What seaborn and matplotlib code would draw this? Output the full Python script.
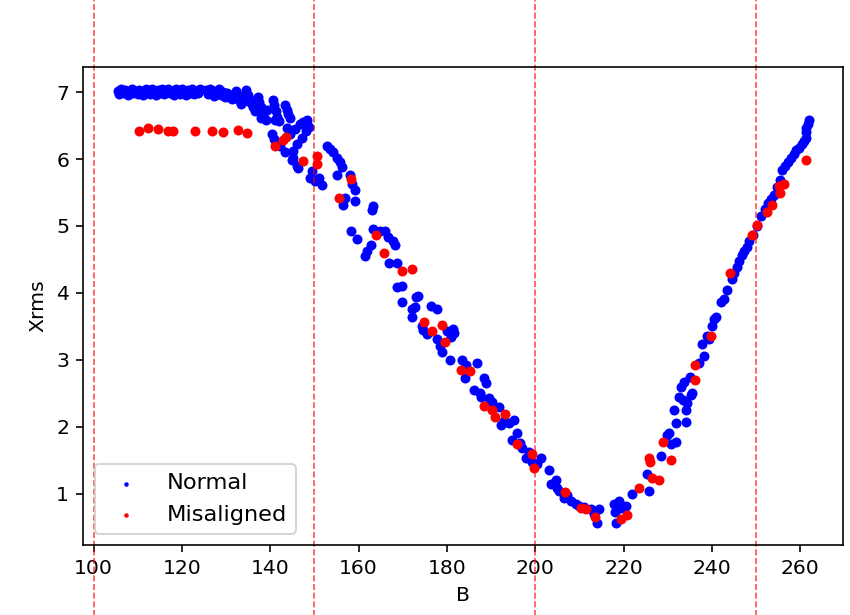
# Xrms vs B scatter, normal vs misaligned runs

import matplotlib
matplotlib.use('Agg')
import matplotlib.pyplot as plt
import pandas as pd
import seaborn as sns

# Normal runs
normal_b = [
    105.5, 105.8, 106.3, 106.8, 107.2, 107.7, 108.1, 108.6, 109.0, 109.5,
    110.0, 110.4, 110.9, 111.3, 111.8, 112.3, 112.7, 113.2, 113.6, 114.1,
    114.5, 115.0, 115.5, 116.0, 116.4, 116.9, 117.3, 117.8, 118.2, 118.7,
    119.1, 119.6, 120.0, 120.5, 121.0, 121.4, 121.9, 122.3, 122.8, 123.2,
    123.7, 124.0,
    125.5, 125.9, 126.3, 126.8, 127.2, 127.6, 128.0, 128.5, 128.9, 129.3,
    129.8, 130.2, 130.6, 131.0, 131.4,
    132.3, 132.6, 133.0, 133.3, 133.6, 134.0, 134.6, 135.0, 135.3, 135.7,
    136.2, 136.6,
    137.2, 137.5, 137.9, 138.3, 138.6, 139.0, 137.8, 139.3,
    140.6, 140.9, 141.3, 141.6, 142.0, 141.0,
    143.3, 143.7, 144.1, 144.5,
    140.4, 140.8, 142.2, 143.3, 144.9, 146.0, 143.8, 144.5, 145.6, 146.7,
    147.4, 148.3, 147.2, 146.0, 145.2, 148.0, 149.0, 149.4, 150.1, 151.0,
    151.7, 148.8, 145.1, 146.3,
    152.8, 153.5, 154.2, 155.1, 155.8, 156.2, 155.1, 158.0, 158.5, 159.1,
    159.1, 156.9, 156.5, 163.0, 163.2, 158.2, 159.6, 161.9, 162.8, 163.2,
    164.8, 165.9, 166.6, 167.7, 168.2, 161.5, 167.0, 168.8, 168.6, 169.8,
    169.8,
    172.7, 173.1, 173.4, 172.2, 172.2, 176.5, 177.7, 174.3, 174.5, 175.4,
    177.7, 180.1, 181.3, 181.7, 181.0, 179.0, 180.6, 183.5, 184.4, 186.7,
    178.5, 188.5, 188.9, 184.0, 186.2, 187.4, 187.8, 189.6, 190.1, 191.9,
    192.3, 193.0, 194.1, 195.3, 195.9, 194.8, 197.1, 198.0, 199.3, 201.4,
    198.5, 196.5, 200.5,
    203.2, 203.6, 204.7, 205.0, 205.4, 206.5, 207.2, 208.1, 209.3, 210.0,
    211.0, 212.6, 213.3, 214.4, 214.0, 217.8, 218.9, 218.3, 218.0, 219.5,
    220.5, 221.9,
    225.3, 225.7, 228.4, 230.7, 231.8, 229.8, 230.2, 231.8, 234.1, 231.4,
    234.1, 235.4, 234.3, 232.5, 233.0, 233.6, 235.0, 233.4, 235.2, 237.0,
    238.1, 237.7, 238.8, 239.3, 240.0, 240.4, 240.9, 242.0, 242.7, 243.5,
    244.5, 245.0, 245.6, 246.1, 246.7, 247.2, 247.9, 248.5, 249.4, 250.3,
    251.2, 252.0, 252.8, 253.4, 254.0, 254.8, 255.5, 255.8, 256.6, 257.3,
    258.0, 258.6, 259.1, 259.7, 260.3, 260.8, 261.2, 261.4, 261.4, 261.7,
    261.9,
]
normal_xrms = [
    7.02, 6.97, 7.04, 6.99, 7.03, 6.96, 7.01, 7.05, 6.98, 7.02,
    6.97, 7.03, 7.00, 6.96, 7.04, 7.01, 6.97, 7.05, 7.00, 6.96,
    7.03, 6.99, 7.04, 6.97, 7.01, 7.05, 6.98, 7.02, 6.96, 7.04,
    7.00, 6.97, 7.05, 7.01, 6.96, 7.03, 6.99, 7.05, 6.97, 7.02,
    6.99, 7.04,
    7.03, 6.97, 7.05, 6.99, 6.94, 7.02, 6.97, 7.04, 6.95, 7.00,
    6.92, 6.98, 6.93, 6.96, 6.90,
    7.02, 6.95, 6.88, 6.82, 6.93, 6.86, 7.03, 6.95, 6.89, 6.84,
    6.78, 6.72,
    6.93, 6.85, 6.78, 6.70, 6.62, 6.58, 6.62, 6.74,
    6.88, 6.80, 6.72, 6.63, 6.57, 6.58,
    6.80, 6.74, 6.68, 6.62,
    6.37, 6.30, 6.20, 6.10, 5.99, 5.90, 6.47, 6.38, 6.45, 6.52,
    6.55, 6.58, 6.32, 6.22, 6.12, 6.42, 5.72, 5.82, 5.67, 5.72,
    5.61, 6.48, 6.02, 5.87,
    6.20, 6.15, 6.10, 6.02, 5.95, 5.88, 5.76, 5.76, 5.62, 5.54,
    5.37, 5.42, 5.32, 5.24, 5.30, 4.92, 4.81, 4.62, 4.71, 4.96,
    4.92, 4.93, 4.84, 4.78, 4.71, 4.55, 4.44, 4.44, 4.09, 3.86,
    4.10,
    3.79, 3.94, 3.96, 3.64, 3.76, 3.80, 3.76, 3.50, 3.45, 3.38,
    3.31, 3.43, 3.46, 3.40, 3.34, 3.11, 3.00, 3.00, 2.93, 2.96,
    3.20, 2.73, 2.66, 2.73, 2.55, 2.50, 2.45, 2.43, 2.37, 2.30,
    2.02, 2.08, 2.05, 2.10, 1.90, 1.80, 1.68, 1.54, 1.47, 1.53,
    1.62, 1.76, 1.45,
    1.35, 1.15, 1.20, 1.09, 1.04, 0.94, 0.98, 0.89, 0.85, 0.82,
    0.80, 0.77, 0.70, 0.77, 0.56, 0.85, 0.89, 0.56, 0.72, 0.78,
    0.82, 1.00,
    1.30, 1.04, 1.57, 1.75, 1.77, 1.87, 1.90, 2.05, 2.07, 2.25,
    2.25, 2.50, 2.36, 2.45, 2.60, 2.67, 2.75, 2.40, 2.48, 2.96,
    3.05, 3.23, 3.35, 3.31, 3.50, 3.61, 3.64, 3.86, 3.91, 4.05,
    4.21, 4.30, 4.39, 4.48, 4.56, 4.62, 4.69, 4.77, 4.86, 5.00,
    5.15, 5.25, 5.34, 5.40, 5.46, 5.58, 5.69, 5.84, 5.90, 5.96,
    6.02, 6.08, 6.13, 6.17, 6.22, 6.27, 6.32, 6.40, 6.47, 6.53,
    6.58,
]

# Misaligned runs
misaligned_b = [
    110.4, 112.4, 114.7, 116.9, 118.1, 123.0, 126.9, 129.3, 132.7, 134.8,
    141.1, 142.9, 143.5, 147.4, 150.6, 150.6, 158.2, 155.5, 163.9, 165.7,
    169.8, 172.0, 174.9, 176.7, 178.8, 179.5, 183.1, 185.3, 188.3, 190.3,
    191.0, 193.2, 195.9, 199.3, 199.8, 206.8, 210.4, 211.5, 213.5, 219.4,
    220.8, 223.5, 226.4, 228.0, 225.7, 225.9, 230.7, 228.9, 236.1, 236.1,
    239.7, 244.2, 249.0, 250.1, 252.4, 253.5, 255.1, 255.5, 256.4, 261.4,
]
misaligned_xrms = [
    6.42, 6.46, 6.45, 6.42, 6.42, 6.42, 6.42, 6.41, 6.43, 6.39,
    6.19, 6.29, 6.33, 5.97, 6.05, 5.92, 5.70, 5.42, 4.86, 4.59,
    4.32, 4.35, 3.57, 3.43, 3.52, 3.26, 2.85, 2.84, 2.31, 2.25,
    2.15, 2.19, 1.75, 1.60, 1.38, 1.03, 0.79, 0.77, 0.65, 0.62,
    0.68, 1.09, 1.23, 1.21, 1.53, 1.48, 1.51, 1.78, 2.70, 2.93,
    3.35, 4.29, 4.86, 5.01, 5.21, 5.31, 5.60, 5.49, 5.63, 5.99,
]

# Boundaries between operating regions
boundaries = [100, 150, 200, 250]

normal_df = pd.DataFrame({'B': normal_b, 'Xrms': normal_xrms})
misaligned_df = pd.DataFrame({'B': misaligned_b, 'Xrms': misaligned_xrms})

DPI = 147
fig = plt.figure(figsize=(850 / DPI, 615 / DPI), dpi=DPI)
ax = fig.add_axes([0.098, 0.114, 0.894, 0.777])

sns.scatterplot(data=normal_df, x='B', y='Xrms', color='blue', s=24,
                linewidth=0, label='Normal', legend=False, ax=ax)
sns.scatterplot(data=misaligned_df, x='B', y='Xrms', color='red', s=24,
                linewidth=0, label='Misaligned', legend=False, ax=ax)

for b in boundaries:
    ax.axvline(b, ymin=-0.2, ymax=1.2, clip_on=False, color='red',
               alpha=0.7, linestyle='--', linewidth=0.8)

ax.set_xlabel('B')
ax.set_ylabel('Xrms')
ax.set_xticks([100, 120, 140, 160, 180, 200, 220, 240, 260])
ax.legend(loc='lower left', markerscale=0.45, fontsize=11)

fig.savefig('out.png', dpi=DPI)
